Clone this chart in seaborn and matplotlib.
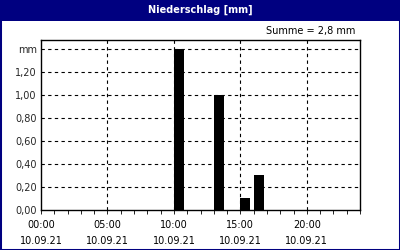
import matplotlib
matplotlib.use("Agg")
import matplotlib.pyplot as plt
import seaborn as sns
import pandas as pd
from matplotlib.patches import Rectangle
from matplotlib.ticker import MultipleLocator, FixedLocator

# data
hours = [10, 13, 15, 16]
values = [1.4, 1.0, 0.1, 0.3]
xtick_hours = [0, 5, 10, 15, 20]
xtick_labels = ["00:00\n10.09.21", "05:00\n10.09.21", "10:00\n10.09.21",
                "15:00\n10.09.21", "20:00\n10.09.21"]
ytick_vals = [0.0, 0.2, 0.4, 0.6, 0.8, 1.0, 1.2, 1.4]
ytick_labels = ["0,00", "0,20", "0,40", "0,60", "0,80", "1,00", "1,20", "mm"]
title = "Niederschlag [mm]"
summe = "Summe = 2,8 mm"

navy = "#000080"
sns.set_theme(style="ticks")
plt.rcParams["font.family"] = ["DejaVu Sans"]
plt.rcParams["xtick.color"] = "black"

fig = plt.figure(figsize=(4, 2.5), dpi=100)
fig.patch.set_facecolor("white")
ax = fig.add_axes([41/400, 40/250, 319/400, 170/250])

bar_w = 0.76
df = pd.DataFrame({"x": [h + bar_w/2 for h in hours], "y": values})
sns.barplot(data=df, x="x", y="y", native_scale=True, width=bar_w,
            color="black", saturation=1, errorbar=None, ax=ax, zorder=3,
            edgecolor="black", linewidth=0)

ax.set_xlim(0, 24)
ax.set_ylim(0, 1.478)
ax.xaxis.set_major_locator(FixedLocator(xtick_hours))
ax.xaxis.set_minor_locator(MultipleLocator(1))
ax.set_xticklabels(xtick_labels, fontsize=7, linespacing=1.75)
ax.set_yticks(ytick_vals)
ax.set_yticklabels(ytick_labels, fontsize=7)
ax.tick_params(axis="x", which="both", direction="out", length=3, width=0.6,
               color="black", pad=4.5, bottom=True)
ax.tick_params(axis="y", which="both", length=0, pad=3)
ax.set_xlabel("")
ax.set_ylabel("")

for v in ytick_vals[1:]:
    ax.axhline(v, color="black", lw=0.8, ls=(0, (3, 3)), zorder=2)
for h in xtick_hours[1:]:
    ax.axvline(h, color="black", lw=0.8, ls=(0, (3, 3)), zorder=4)

for s in ax.spines.values():
    s.set_color("black")
    s.set_linewidth(1.0)
    s.set_visible(True)

# title bar and border
fig.patches.append(Rectangle((0, 1 - 21/250), 1, 21/250, transform=fig.transFigure,
                             facecolor=navy, edgecolor="none", zorder=0))
fig.patches.append(Rectangle((0, 0), 1, 1, transform=fig.transFigure,
                             fill=False, edgecolor=navy, linewidth=2.2, zorder=0))
fig.text(0.5, 1 - 10/250, title, color="white", fontsize=7, fontweight="bold",
         ha="center", va="center")
fig.text(355/400, 1 - 31/250, summe, color="black", fontsize=7, ha="right", va="center")

fig.savefig("out.png", dpi=100)
